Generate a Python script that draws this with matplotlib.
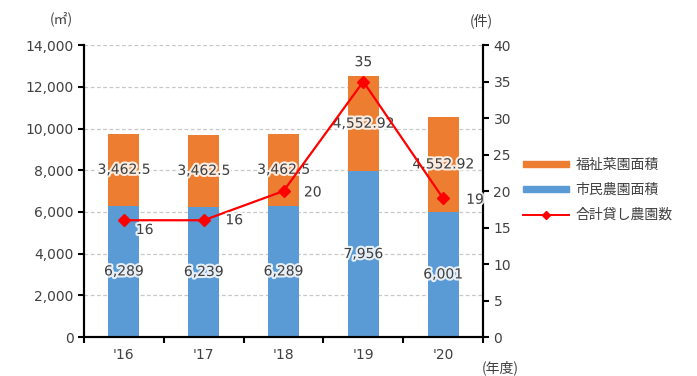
import matplotlib
matplotlib.use("Agg")
import matplotlib.pyplot as plt
import matplotlib.patheffects as pe
from matplotlib.lines import Line2D
from matplotlib.patches import Patch
import numpy as np

plt.rcParams['font.family'] = ['Noto Sans CJK JP', 'DejaVu Sans']

years = ["'16", "'17", "'18", "'19", "'20"]
shimin_area = [6289, 6239, 6289, 7956, 6001]          # 市民農園面積 (㎡)
fukushi_area = [3462.5, 3462.5, 3462.5, 4552.92, 4552.92]  # 福祉菜園面積 (㎡)
farm_count = [16, 16, 20, 35, 19]                      # 合計貸し農園数 (件)

shimin_labels = ["6,289", "6,239", "6,289", "7,956", "6,001"]
fukushi_labels = ["3,462.5", "3,462.5", "3,462.5", "4,552.92", "4,552.92"]

BLUE = '#5B9BD5'
ORANGE = '#ED7D31'
RED = '#FF0000'
TXT = '#404040'

fig = plt.figure(figsize=(6.97, 3.76), dpi=100)
ax = fig.add_axes([0.1205, 0.1037, 0.5725, 0.7763])
ax2 = ax.twinx()

x = np.arange(len(years))
w = 0.39
ax.bar(x, shimin_area, w, color=BLUE, zorder=2)
ax.bar(x, fukushi_area, w, bottom=shimin_area, color=ORANGE, zorder=2)

halo = [pe.withStroke(linewidth=3, foreground='white', alpha=0.85)]
for i in range(len(years)):
    ax.text(x[i], shimin_area[i] / 2, shimin_labels[i], ha='center', va='center',
            fontsize=10, color=TXT, path_effects=halo, zorder=4,
            family=['DejaVu Sans'])
    ax.text(x[i], shimin_area[i] + fukushi_area[i] / 2, fukushi_labels[i],
            ha='center', va='center', fontsize=10, color=TXT,
            path_effects=halo, zorder=4, family=['DejaVu Sans'])

ax.set_xlim(-0.5, len(years) - 0.5)
ax.set_ylim(0, 14000)
ax.set_yticks(np.arange(0, 14001, 2000))
ax.set_yticklabels([f'{v:,}' for v in range(0, 14001, 2000)],
                   family=['DejaVu Sans'])
ax.yaxis.grid(True, linestyle=(0, (3, 2)), color='#C8C8C8', linewidth=0.9)
ax.set_axisbelow(True)
ax.set_xticks(x)
ax.set_xticklabels(years, family=['DejaVu Sans'])
ax.set_xticks(np.arange(-0.5, len(years)), minor=True)
ax.tick_params(axis='x', which='major', length=0, pad=8, labelsize=10, colors=TXT)
ax.tick_params(axis='x', which='minor', length=4, width=1.5, direction='out')
ax.tick_params(axis='y', length=4, width=1.5, labelsize=10, labelcolor=TXT)

ax2.plot(x, farm_count, color=RED, linewidth=1.6, marker='D', markersize=6,
         zorder=5)
ax2.set_ylim(0, 40)
ax2.set_yticks(np.arange(0, 41, 5))
ax2.set_yticklabels([str(v) for v in range(0, 41, 5)], family=['DejaVu Sans'])
ax2.tick_params(axis='y', length=4, width=1.5, labelsize=10, labelcolor=TXT)

# label offsets (points) for the count series
count_offsets = [(15, -7), (22, 0), (21, -1), (0, 14), (23, -1)]
for i, (dx, dy) in enumerate(count_offsets):
    ax2.annotate(str(farm_count[i]), (x[i], farm_count[i]), xytext=(dx, dy),
                 textcoords='offset points', ha='center', va='center',
                 fontsize=10, color=TXT, family=['DejaVu Sans'], zorder=6,
                 path_effects=halo)

for a in (ax, ax2):
    a.spines['top'].set_visible(False)
    for s in ('left', 'right', 'bottom'):
        a.spines[s].set_linewidth(1.5)
        a.spines[s].set_color('black')

fig.text(0.088, 0.95, '(㎡)', ha='center', va='center', fontsize=10, color=TXT)
fig.text(0.69, 0.945, '(件)', ha='center', va='center', fontsize=10, color=TXT)
fig.text(0.718, 0.022, '(年度)', ha='center', va='center', fontsize=10, color=TXT)

handles = [Patch(color=ORANGE), Patch(color=BLUE),
           Line2D([], [], color=RED, marker='D', markersize=4, linewidth=1.4)]
labels = ['福祉菜園面積', '市民農園面積', '合計貸し農園数']
leg = fig.legend(handles, labels, loc='center left', bbox_to_anchor=(0.732, 0.495),
                 frameon=False, fontsize=10, handlelength=3.3, handleheight=0.35,
                 labelspacing=0.8, handletextpad=0.5, labelcolor=TXT)

fig.savefig('out.png', dpi=100, facecolor='white')
